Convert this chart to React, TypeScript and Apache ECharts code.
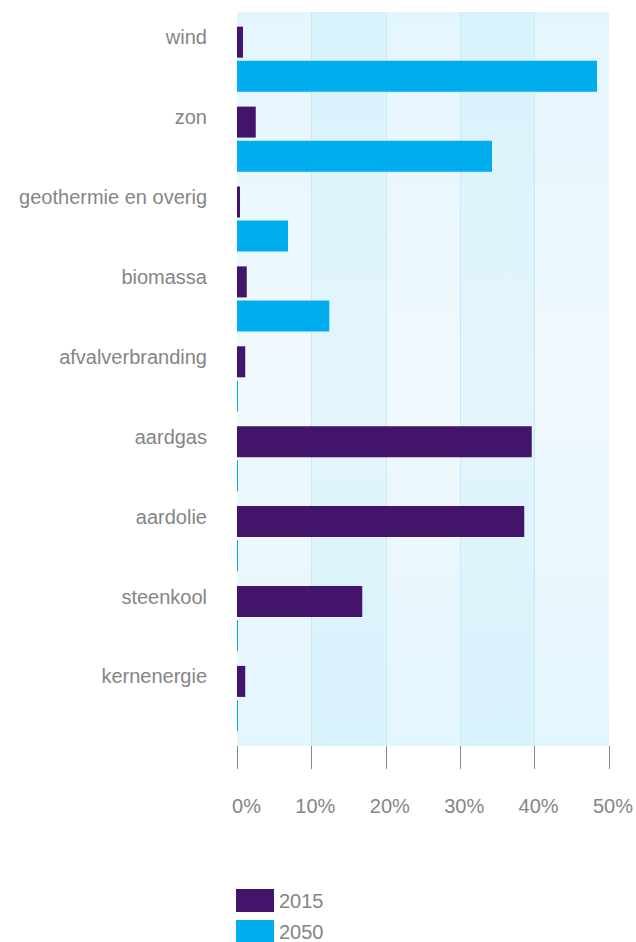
import React, { useEffect, useRef } from "react";
import * as echarts from "echarts";

const categories = [
  "wind",
  "zon",
  "geothermie en overig",
  "biomassa",
  "afvalverbranding",
  "aardgas",
  "aardolie",
  "steenkool",
  "kernenergie",
];
const values2015 = [0.8, 2.5, 0.4, 1.3, 1.1, 39.3, 38.3, 16.7, 1.1];
const values2050 = [48, 34, 6.8, 12.3, 0, 0, 0, 0, 0];
const seriesNames = ["2015", "2050"];
const tickValues = [0, 10, 20, 30, 40, 50];

const FONT = "'Liberation Sans', Arial, Helvetica, sans-serif";
const GRAY = "#858585";
const COLORS = ["#42146a", "#00aeef"];

export default function App() {
  const ref = useRef<HTMLDivElement>(null);
  useEffect(() => {
    document.body.style.margin = "0";
    if (!ref.current) return;
    const chart = echarts.init(ref.current, undefined, { renderer: "svg" });
    const xMin = tickValues[0];
    const xMax = tickValues[tickValues.length - 1];
    const interval = tickValues[1] - tickValues[0];
    const legendBase = {
      orient: "vertical",
      left: 236,
      padding: 0,
      itemWidth: 38,
      itemHeight: 23,
      itemGap: 8,
      icon: "rect",
      textStyle: { color: GRAY, fontSize: 20, fontFamily: FONT },
    };
    chart.setOption({
      animation: false,
      textStyle: { fontFamily: FONT },
      color: COLORS,
      grid: [
        {
          left: 237,
          width: 375,
          top: 12,
          height: 734,
          show: true,
          borderWidth: 0,
          backgroundColor: {
            type: "linear",
            x: 0,
            y: 0,
            x2: 0,
            y2: 1,
            colorStops: [
              { offset: 0, color: "#e4f6fd" },
              { offset: 0.5, color: "#f0f9fe" },
              { offset: 1, color: "#e4f6fd" },
            ],
          },
        },
        { left: 237, width: 375, top: 19.3, height: 719.1 },
      ],
      xAxis: [
        {
          gridIndex: 0,
          type: "value",
          min: xMin,
          max: xMax,
          interval,
          position: "bottom",
          offset: 13,
          axisLine: { show: false },
          axisTick: { show: true, length: 23, lineStyle: { color: "#8a8a8a", width: 1 } },
          axisLabel: {
            show: true,
            formatter: "{value}%",
            color: GRAY,
            fontSize: 20,
            fontFamily: FONT,
            margin: 37,
            align: "right",
            padding: [0, -24, 0, 0],
          },
          splitLine: {
            show: true,
            showMinLine: false,
            showMaxLine: false,
            lineStyle: { color: "#c8eaf7", width: 1 },
          },
          splitArea: {
            show: true,
            areaStyle: { color: ["rgba(0,0,0,0)", "rgba(29,179,236,0.06)"] },
          },
        },
        {
          gridIndex: 1,
          type: "value",
          min: xMin,
          max: xMax,
          interval,
          show: false,
        },
      ],
      yAxis: [
        { gridIndex: 0, type: "value", show: false },
        {
          gridIndex: 1,
          type: "category",
          data: categories,
          inverse: true,
          axisLine: { show: false },
          axisTick: { show: false },
          axisLabel: {
            color: GRAY,
            fontSize: 20,
            fontFamily: FONT,
            margin: 30,
            verticalAlign: "bottom",
            lineHeight: 44,
          },
        },
      ],
      legend: [
        { ...legendBase, top: 889, data: [seriesNames[0]] },
        { ...legendBase, top: 920, data: [seriesNames[1]] },
      ],
      series: [
        {
          name: seriesNames[0],
          type: "bar",
          xAxisIndex: 1,
          yAxisIndex: 1,
          data: values2015,
          barWidth: 31,
          barGap: "10%",
          barMinHeight: 1,
          itemStyle: { color: COLORS[0] },
        },
        {
          name: seriesNames[1],
          type: "bar",
          xAxisIndex: 1,
          yAxisIndex: 1,
          data: values2050,
          barWidth: 31,
          barGap: "10%",
          barMinHeight: 1,
          itemStyle: { color: COLORS[1] },
        },
      ],
    });
    return () => chart.dispose();
  }, []);
  return <div ref={ref} style={{ width: 636, height: 942 }} />;
}
